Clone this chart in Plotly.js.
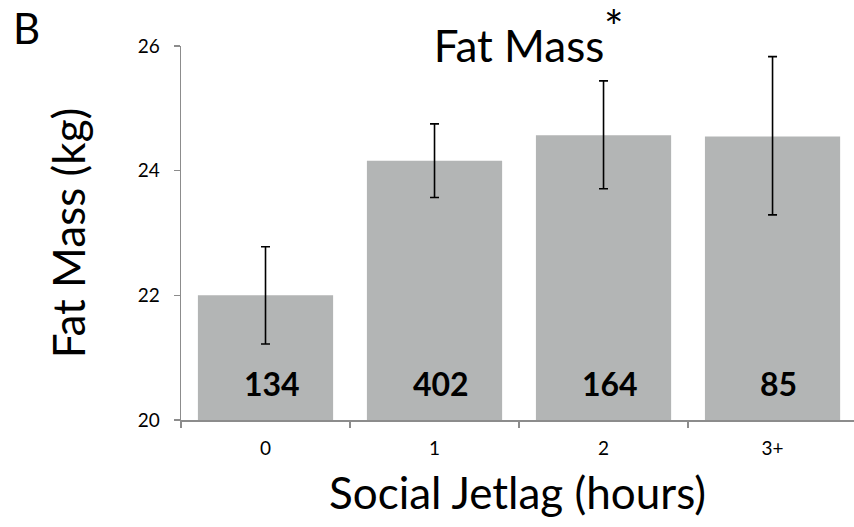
<!DOCTYPE html>
<html>
<head>
<meta charset="utf-8">
<script src="https://cdn.plot.ly/plotly-3.0.1.min.js"></script>
<style>html,body{margin:0;padding:0;background:#fff;}#chart{width:854px;height:527px;}</style>
</head>
<body>
<div id="chart"></div>
<script>
const categories = ["0", "1", "2", "3+"];
const fatMass = [22.0, 24.16, 24.57, 24.55];
const errPlus = [0.78, 0.59, 0.87, 1.28];
const errMinus = [0.78, 0.59, 0.86, 1.26];
const sampleSizes = ["134", "402", "164", "85"];

const FONT = "Lato, 'Open Sans', sans-serif";

const trace = {
  type: "bar",
  x: categories,
  y: fatMass,
  marker: {color: "#b3b5b5"},
  error_y: {type: "data", symmetric: false, array: errPlus, arrayminus: errMinus,
            color: "#000", thickness: 1.6, width: 4.5},
  hoverinfo: "x+y"
};

const annotations = categories.map((c, i) => ({
  x: c, y: 20.58, xref: "x", yref: "y", text: "<b>" + sampleSizes[i] + "</b>",
  showarrow: false, xshift: 6, font: {family: FONT, size: 32, color: "#000"}
}));
// panel letter, placed in plot-relative paper coordinates
annotations.push({x: (26 - 181) / 673, y: (420.5 - 28) / 374.5, xref: "paper", yref: "paper",
  text: "B", showarrow: false, xanchor: "center", yanchor: "middle",
  font: {family: FONT, size: 42, color: "#000"}});
// significance asterisk raised after the title
annotations.push({x: (614 - 181) / 673, y: (420.5 - 26) / 374.5, xref: "paper", yref: "paper",
  text: "*", showarrow: false, xanchor: "center", yanchor: "middle",
  font: {family: FONT, size: 46, color: "#000"}});

const layout = {
  width: 854, height: 527,
  margin: {l: 181, r: 0, t: 46, b: 106.5},
  paper_bgcolor: "#fff", plot_bgcolor: "#fff",
  showlegend: false,
  bargap: 0.2,
  title: {text: "Fat Mass", x: 519/854, xanchor: "center",
          y: 1 - 47/527, yanchor: "middle",
          xref: "container", yref: "container", font: {family: FONT, size: 44, color: "#000"}},
  xaxis: {
    type: "category", categoryarray: categories, range: [-0.5, 3.482],
    showline: true, linecolor: "#8c8c8c", linewidth: 1.5,
    ticks: "outside", tickson: "boundaries", ticklen: 6, tickcolor: "#8c8c8c", tickwidth: 1.5,
    ticklabelstandoff: 11,
    showgrid: false, zeroline: false,
    tickfont: {family: FONT, size: 19, color: "#000"},
    title: {text: "Social Jetlag (hours)", font: {family: FONT, size: 44, color: "#000"}, standoff: 20}
  },
  yaxis: {
    range: [20, 26], tickvals: [20, 22, 24, 26],
    showline: true, linecolor: "#8c8c8c", linewidth: 1.5,
    ticks: "outside", ticklen: 6, tickcolor: "#8c8c8c", tickwidth: 1.5,
    ticklabelstandoff: 10,
    showgrid: false, zeroline: false,
    tickfont: {family: FONT, size: 19, color: "#000"},
    title: {text: "Fat Mass (kg)", font: {family: FONT, size: 44, color: "#000"}, standoff: 38}
  },
  annotations: annotations
};

Plotly.newPlot("chart", [trace], layout, {displayModeBar: false, staticPlot: true});
</script>
</body>
</html>
